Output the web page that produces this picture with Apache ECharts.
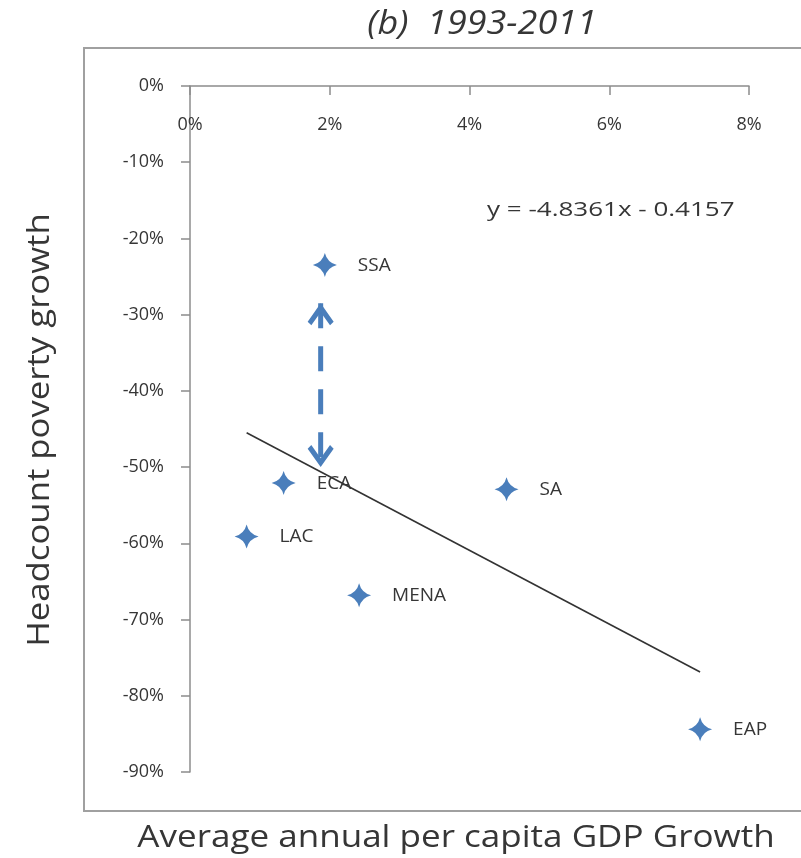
<!DOCTYPE html>
<html>
<head>
<meta charset="utf-8">
<script src="https://cdn.jsdelivr.net/npm/echarts@6/dist/echarts.min.js"></script>
<style>
  html, body { margin: 0; padding: 0; background: #ffffff; }
  #chart { width: 801px; height: 858px; }
</style>
</head>
<body>
<div id="chart"></div>
<script>
// Regions and their growth figures (fractions)
const regions = ['SSA', 'ECA', 'SA', 'LAC', 'MENA', 'EAP'];
const gdpGrowth = [0.0193, 0.0134, 0.0453, 0.0081, 0.0242, 0.0730];
const povertyGrowth = [-0.235, -0.521, -0.529, -0.591, -0.668, -0.844];

// Linear fit shown on the chart
const fitSlope = -4.8361;
const fitIntercept = -0.4157;

// Gap between SSA and the fitted line
const gapX = 0.0187;
const gapTop = -0.285;
const gapBottom = -0.500;

// Axis ticks
const xTicks = [0, 0.02, 0.04, 0.06, 0.08];
const yTicks = [0, -0.1, -0.2, -0.3, -0.4, -0.5, -0.6, -0.7, -0.8, -0.9];

const titleText = '(b)  1993-2011';
const xName = 'Average annual per capita GDP Growth';
const yName = 'Headcount poverty growth';
const fitText = 'y = -4.8361x - 0.4157';

const fam = '"Open Sans", "DejaVu Sans", sans-serif';
const blue = '#4A7EBB';
const ink = '#363636';
const pct = v => Math.round(v * 100) + '%';

const points = regions.map((r, i) => ({ name: r, value: [gdpGrowth[i], povertyGrowth[i]] }));
const xMin = Math.min(...gdpGrowth);
const xMax = Math.max(...gdpGrowth);
const fitLine = [xMin, xMax].map(x => [x, fitSlope * x + fitIntercept]);

const star = 'path://M50,0 Q60,40 100,50 Q60,60 50,100 Q40,60 0,50 Q40,40 50,0 Z';
const chevronUp = 'path://M50,0 L100,62 L86,74 L50,30 L14,74 L0,62 Z';
const chevronDown = 'path://M50,100 L100,38 L86,26 L50,70 L14,26 L0,38 Z';

const chart = echarts.init(document.getElementById('chart'), null, { renderer: 'canvas' });
chart.setOption({
  backgroundColor: '#ffffff',
  animation: false,
  grid: { left: 190, right: 52, top: 86, bottom: 86 },
  xAxis: {
    type: 'value', position: 'top',
    min: xTicks[0], max: xTicks[xTicks.length - 1], interval: xTicks[1] - xTicks[0],
    axisLine: { show: true, onZero: false, lineStyle: { color: '#8c8c8c', width: 1.5 } },
    axisTick: { show: true, inside: true, length: 9, lineStyle: { color: '#8c8c8c', width: 1.5 } },
    axisLabel: { inside: true, margin: 30, formatter: pct, fontFamily: fam, fontSize: 18, color: ink },
    splitLine: { show: false }
  },
  yAxis: {
    type: 'value',
    min: yTicks[yTicks.length - 1], max: yTicks[0], interval: yTicks[0] - yTicks[1],
    axisLine: { show: true, lineStyle: { color: '#8c8c8c', width: 1.5 } },
    axisTick: { show: true, length: 9, lineStyle: { color: '#8c8c8c', width: 1.5 } },
    axisLabel: { margin: 26, formatter: pct, fontFamily: fam, fontSize: 18, color: ink },
    splitLine: { show: false }
  },
  graphic: [
    { type: 'rect', silent: true, z: -1,
      shape: { x: 84, y: 48, width: 740, height: 763 },
      style: { fill: 'none', stroke: '#a0a0a0', lineWidth: 2 } },
    { type: 'text', x: 482, y: 25, scaleX: 1.09,
      style: { text: titleText, font: 'italic 33px ' + fam, fill: ink, textAlign: 'center', textVerticalAlign: 'middle' } },
    { type: 'text', x: 456, y: 838, scaleX: 1.13,
      style: { text: xName, font: '31px ' + fam, fill: ink, textAlign: 'center', textVerticalAlign: 'middle' } },
    { type: 'text', x: 40, y: 430, rotation: Math.PI / 2, scaleX: 1.12,
      style: { text: yName, font: '31px ' + fam, fill: ink, textAlign: 'center', textVerticalAlign: 'middle' } },
    { type: 'text', x: 487, y: 210, scaleX: 1.3,
      style: { text: fitText, font: '20px ' + fam, fill: ink, textAlign: 'left', textVerticalAlign: 'middle' } }
  ],
  series: [
    {
      type: 'line', data: fitLine, symbol: 'none', z: 2,
      lineStyle: { color: '#333333', width: 1.6 }
    },
    {
      type: 'line', z: 3,
      data: [
        { value: [gapX, gapTop], symbol: chevronUp, symbolSize: [26, 22], symbolOffset: [0, 11] },
        { value: [gapX, gapBottom], symbol: chevronDown, symbolSize: [26, 22], symbolOffset: [0, -11] }
      ],
      itemStyle: { color: blue, opacity: 1 },
      lineStyle: { color: blue, width: 5, type: [25, 18] }
    },
    {
      type: 'scatter', data: points, z: 4,
      symbol: star, symbolSize: 24,
      itemStyle: { color: blue, opacity: 1 },
      label: {
        show: true, position: 'right', distance: 21,
        formatter: p => p.name,
        fontFamily: fam, fontSize: 19, color: ink
      }
    }
  ]
});
</script>
</body>
</html>
